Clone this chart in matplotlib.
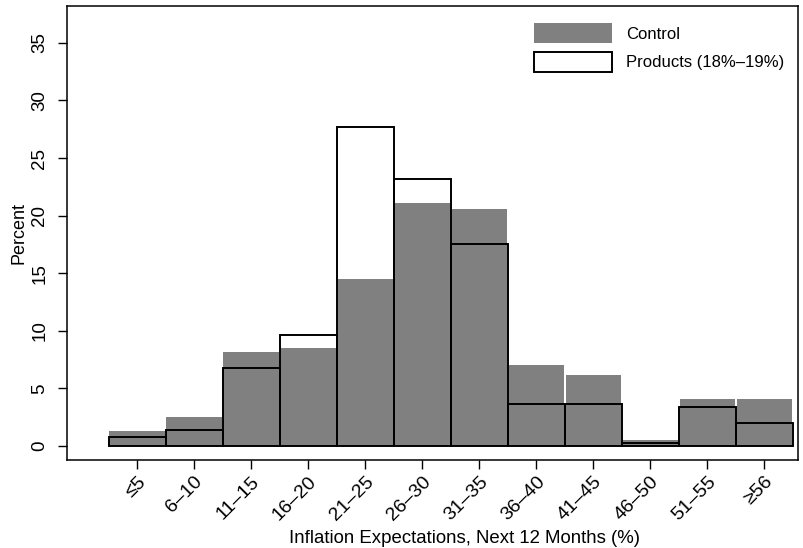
import matplotlib
matplotlib.use("Agg")
import matplotlib.pyplot as plt
import matplotlib.transforms as mtransforms
import numpy as np
from matplotlib.patches import Patch

plt.rcParams['font.family'] = ['Liberation Sans', 'DejaVu Sans']

categories = ["≤5", "6–10", "11–15", "16–20", "21–25", "26–30", "31–35",
              "36–40", "41–45", "46–50", "51–55", "≥56"]
control = [1.3, 2.5, 8.2, 8.5, 14.5, 21.1, 20.6, 7.0, 6.2, 0.5, 4.1, 4.1]
products = [0.8, 1.35, 6.8, 9.6, 27.7, 23.2, 17.5, 3.65, 3.65, 0.25, 3.4, 2.0]
yticks = [0, 5, 10, 15, 20, 25, 30, 35]

fig = plt.figure(figsize=(8.04, 5.48), dpi=100)
ax = fig.add_axes([0.0833, 0.1606, 0.9092, 0.8284])

x = np.arange(len(categories))
ax.bar(x, control, width=0.97, color='#808080', edgecolor='none', zorder=1)
ax.bar(x, products, width=1.0, facecolor='none', edgecolor='black',
       linewidth=1.4, zorder=2)

ax.set_xlim(-1.23, 11.59)
ax.set_ylim(-1.22, 38.2)
ax.set_xticks(x)
ax.set_xticklabels(categories, rotation=45, ha='right', va='top',
                   rotation_mode='anchor', fontsize=14)
offset = mtransforms.ScaledTranslation(4 / 100, 0, fig.dpi_scale_trans)
for lab in ax.get_xticklabels():
    lab.set_transform(lab.get_transform() + offset)
ax.set_yticks(yticks)
ax.set_yticklabels([str(t) for t in yticks], rotation=90, va='center', fontsize=13.5)
ax.tick_params(axis='both', direction='out', length=6.5, width=1.0, colors='black')
ax.tick_params(axis='y', pad=7)
ax.tick_params(axis='x', pad=3)
for s in ax.spines.values():
    s.set_linewidth(1.1)

ax.set_ylabel("Percent", fontsize=13, labelpad=3)
fig.text(464.5 / 804, 1 - 543 / 548, "Inflation Expectations, Next 12 Months (%)",
         fontsize=13.4, ha='center', va='baseline')

handles = [Patch(facecolor='#808080', edgecolor='none', label='Control'),
           Patch(facecolor='white', edgecolor='black', linewidth=1.4,
                 label='Products (18%–19%)')]
ax.legend(handles=handles, loc='upper left', bbox_to_anchor=(534 / 804, 1 - 23 / 548),
          bbox_transform=fig.transFigure, borderpad=0, borderaxespad=0,
          frameon=False, fontsize=12, handlelength=4.68, handleheight=1.5,
          labelspacing=0.5, handletextpad=0.84)

fig.savefig("out.png", dpi=100)
